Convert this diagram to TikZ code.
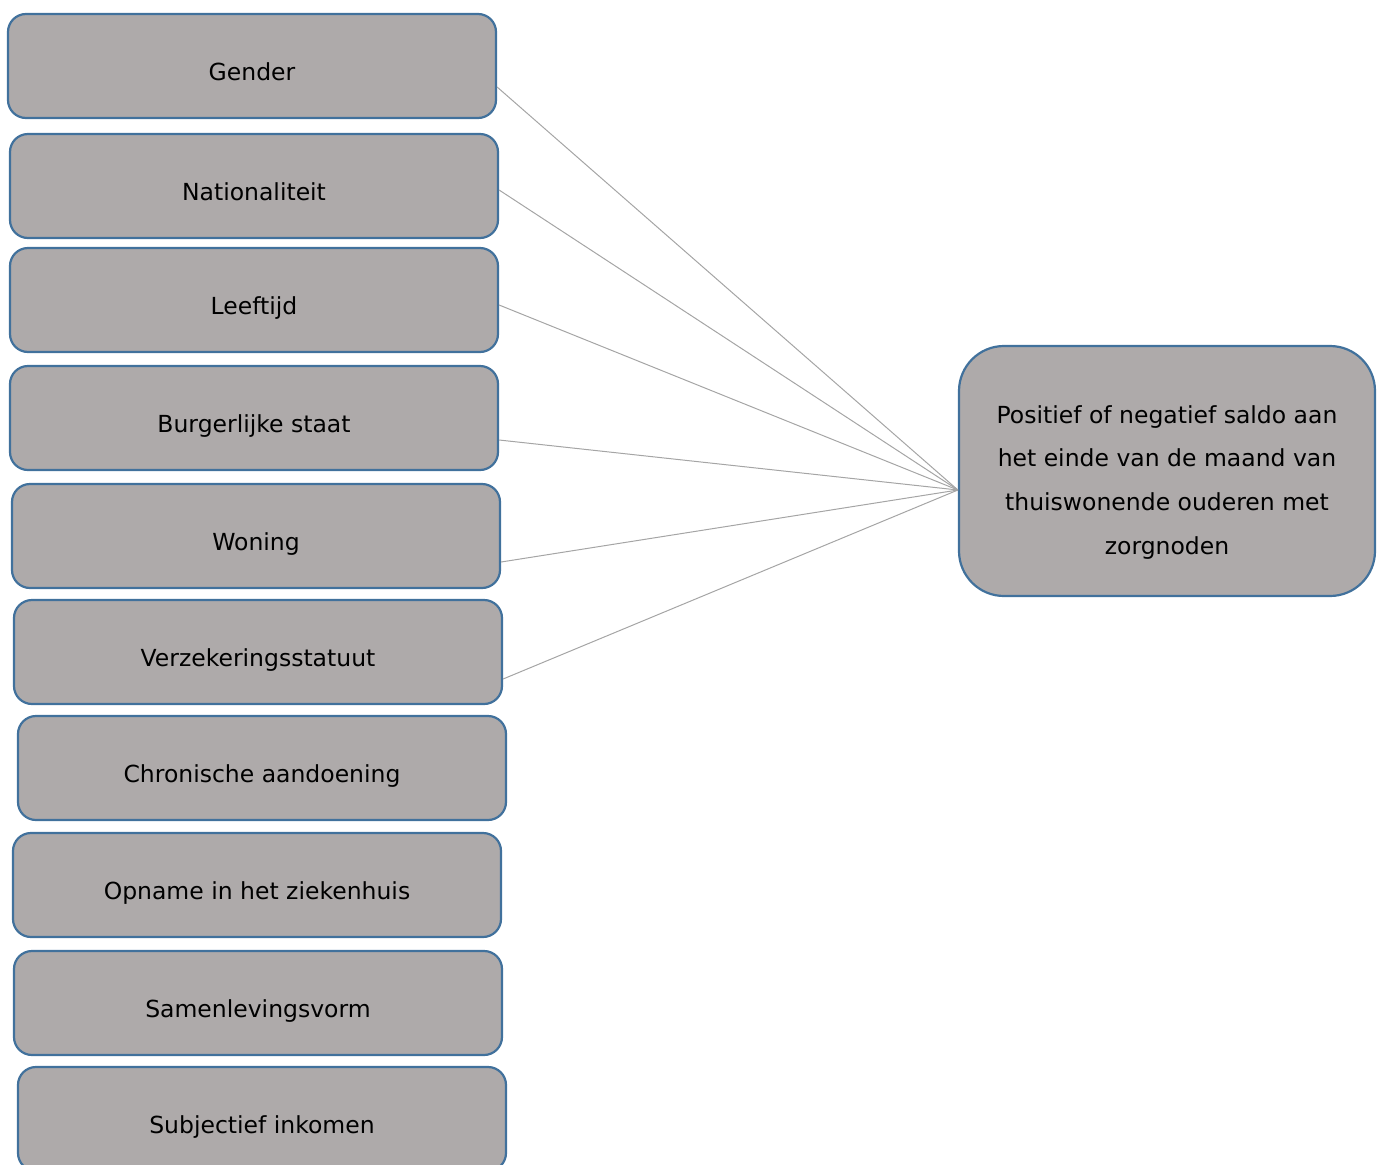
\documentclass[tikz,border=0pt]{standalone}
\usepackage{fontspec}
\setmainfont{DejaVu Sans}
\definecolor{boxfill}{HTML}{AEAAAA}
\definecolor{boxedge}{HTML}{41719C}
\definecolor{linkgray}{HTML}{A5A5A5}
\begin{document}
\begin{tikzpicture}[x=1pt,y=-1pt,
  factor/.style={draw=boxedge, fill=boxfill, line width=2.2pt, rounded corners=18pt,
    minimum width=488pt, minimum height=104pt, inner sep=0pt,
    font=\fontsize{23.5}{28}\selectfont, text height=29pt, text depth=0pt},
  outcome/.style={draw=boxedge, fill=boxfill, line width=2.2pt, rounded corners=45pt,
    minimum width=416pt, minimum height=250pt, inner sep=0pt,
    font=\fontsize{23.5}{43.7}\selectfont},
  link/.style={draw=linkgray, line width=1pt}]
\useasboundingbox (0,0) rectangle (1382,1165);
\node[factor] (n1) at (252,66) {Gender};
\node[factor] (n2) at (254,186) {Nationaliteit};
\node[factor] (n3) at (254,300) {Leeftijd};
\node[factor] (n4) at (254,418) {Burgerlijke staat};
\node[factor] (n5) at (256,536) {Woning};
\node[factor] (n6) at (258,652) {Verzekeringsstatuut};
\node[factor] (n7) at (262,768) {Chronische aandoening};
\node[factor] (n8) at (257,885) {Opname in het ziekenhuis};
\node[factor] (n9) at (258,1003) {Samenlevingsvorm};
\node[factor] (n10) at (262,1119) {Subjectief inkomen};
\node[outcome] (out) at (1167,471) {\raisebox{-9pt}[\height][\depth]{\begin{tabular}{@{}c@{}}Positief of negatief saldo aan\\het einde van de maand van\\thuiswonende ouderen met\\zorgnoden\end{tabular}}};
\coordinate (hub) at ([yshift=-19pt]out.west);
\draw[link] ([yshift=-21pt]n1.east) -- (hub);
\draw[link] ([yshift=-4pt]n2.east) -- (hub);
\draw[link] ([yshift=-5pt]n3.east) -- (hub);
\draw[link] ([yshift=-22pt]n4.east) -- (hub);
\draw[link] ([yshift=-26pt]n5.east) -- (hub);
\draw[link] ([yshift=-27pt]n6.east) -- (hub);
\end{tikzpicture}
\end{document}
